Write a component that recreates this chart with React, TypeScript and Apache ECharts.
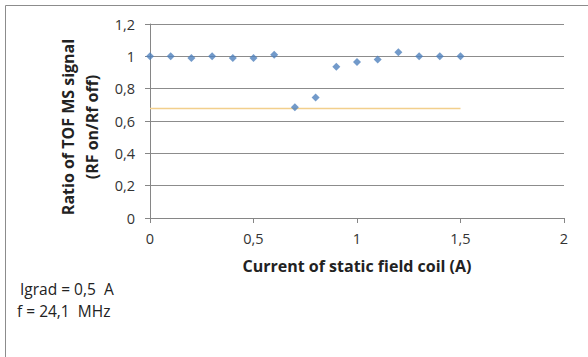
import React, { useEffect, useRef } from "react";
import * as echarts from "echarts";

const currents = [0, 0.1, 0.2, 0.3, 0.4, 0.5, 0.6, 0.7, 0.8, 0.9, 1.0, 1.1, 1.2, 1.3, 1.4, 1.5];
const ratios = [1.0, 1.0, 0.99, 1.0, 0.99, 0.99, 1.01, 0.685, 0.745, 0.935, 0.965, 0.98, 1.025, 1.0, 1.0, 1.0];
const refLineX = [0, 1.5];
const refLineY = [0.677, 0.677];
const yTitleLines = ["Ratio of TOF MS signal", "(RF on/Rf off)"];
const xTitle = "Current of static field coil (A)";
const notes = ["Igrad = 0,5  A", "f = 24,1  MHz"];

const FONT = "'Open Sans', Lato, sans-serif";
const fmt = (v: number) => String(v).replace(".", ",");

export default function App() {
  const ref = useRef<HTMLDivElement>(null);
  useEffect(() => {
    if (!ref.current) return;
    const chart = echarts.init(ref.current, null, { renderer: "svg" });
    chart.setOption({
      animation: false,
      backgroundColor: "#ffffff",
      textStyle: { fontFamily: FONT },
      grid: { left: 150, right: 24, top: 24, bottom: 139, containLabel: false },
      xAxis: {
        type: "value",
        min: 0,
        max: 2,
        interval: 0.5,
        axisLine: { show: true, lineStyle: { color: "#868686", width: 1 } },
        axisTick: { show: true, inside: false, length: 5, lineStyle: { color: "#868686" } },
        splitLine: { show: false },
        axisLabel: { color: "#333", fontSize: 14.5, fontFamily: FONT, margin: 13, formatter: fmt },
      },
      yAxis: {
        type: "value",
        min: 0,
        max: 1.2,
        interval: 0.2,
        axisLine: { show: true, lineStyle: { color: "#868686", width: 1 } },
        axisTick: { show: true, inside: false, length: 5, lineStyle: { color: "#868686" } },
        splitLine: { show: true, lineStyle: { color: "#8c8c8c", width: 1 } },
        axisLabel: { color: "#333", fontSize: 14.5, fontFamily: FONT, margin: 15, formatter: (v: number) => fmt(Math.round(v * 10) / 10) },
      },
      series: [
        {
          type: "line",
          data: refLineX.map((x, i) => [x, refLineY[i]]),
          symbol: "none",
          lineStyle: { color: "#F2CF8C", width: 1.5 },
          z: 2,
        },
        {
          type: "scatter",
          data: currents.map((x, i) => [x, ratios[i]]),
          symbol: "diamond",
          symbolSize: 8,
          itemStyle: { color: "#4F81BD" },
          z: 3,
        },
      ],
      graphic: [
        {
          type: "rect",
          shape: { x: 5.5, y: 5.5, width: 600, height: 400 },
          style: { fill: "none", stroke: "#8c8c8c", lineWidth: 1 },
          silent: true,
        },
        {
          type: "text",
          x: 80,
          y: 127,
          rotation: Math.PI / 2,
          style: {
            text: yTitleLines.join("\n"),
            fontFamily: FONT,
            fontSize: 16,
            fontWeight: "bold",
            fill: "#222",
            textAlign: "center",
            textVerticalAlign: "middle",
            lineHeight: 24,
          },
        },
        {
          type: "text",
          x: 357,
          y: 266,
          style: {
            text: xTitle,
            fontFamily: FONT,
            fontSize: 16,
            fontWeight: "bold",
            fill: "#222",
            textAlign: "center",
            textVerticalAlign: "middle",
          },
        },
        {
          type: "text",
          x: 20,
          y: 289,
          style: { text: notes[0], fontFamily: FONT, fontSize: 15.5, fill: "#222", textVerticalAlign: "middle" },
        },
        {
          type: "text",
          x: 17,
          y: 311,
          style: { text: notes[1], fontFamily: FONT, fontSize: 15.5, fill: "#222", textVerticalAlign: "middle" },
        },
      ],
    });
    return () => chart.dispose();
  }, []);
  return <div ref={ref} style={{ width: 588, height: 357, position: "fixed", left: 0, top: 0 }} />;
}
